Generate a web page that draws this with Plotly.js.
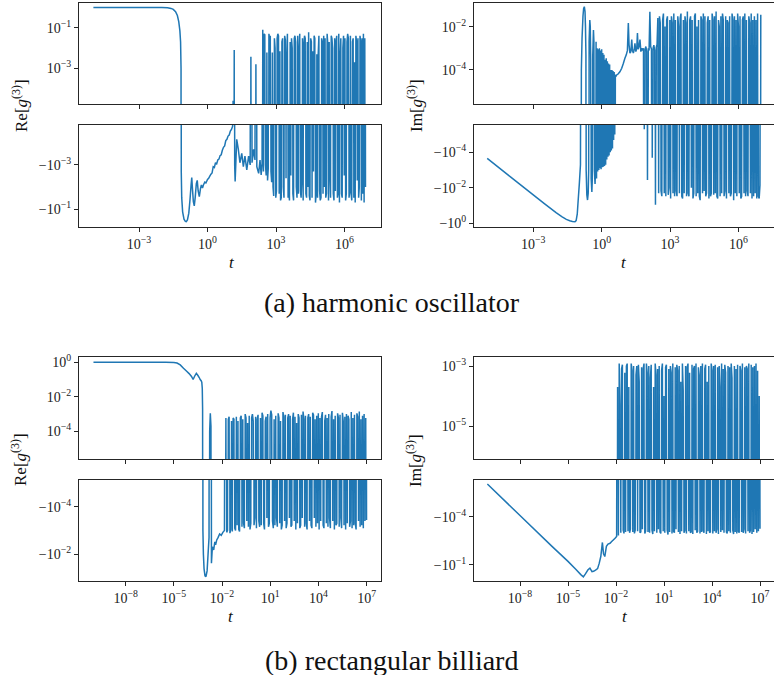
<!DOCTYPE html>
<html><head><meta charset="utf-8">
<script src="https://cdn.plot.ly/plotly-3.0.1.min.js"></script>
<style>html,body{margin:0;padding:0;background:#fff;}#chart{width:774px;height:675px;}</style>
</head><body><div id="chart"></div>
<script>
// ---------------- DATA ----------------
// (a) harmonic oscillator, Re[g3]: early part (log10 t, value) + dense part on a log grid [start, step]
const aReLogt = [-5,-3,-2,-1.75,-1.6,-1.5,-1.4,-1.32,-1.26,-1.21,-1.18,-1.16,-1.15,-1.13,-1.09,-1.03,-0.97,-0.93,-0.88,-0.82,-0.77,-0.72,-0.69,-0.66,-0.62,-0.58,-0.54,-0.49,-0.45,-0.41,-0.36,-0.31,-0.27,-0.22,-0.18,-0.12,-0.07,0,0.05,0.1,0.15,0.2,0.25,0.3,0.35,0.4,0.45,0.5,0.55,0.6,0.65,0.7,0.75,0.8,0.85,0.9,0.95,1.0,1.05,1.1,1.12,1.14,1.17,1.19,1.21,1.28,1.35,1.42,1.5,1.57,1.64,1.72,1.8,1.87,1.9,1.95,2.02,2.08,2.12,2.16,2.24,2.3,2.35,2.39];
const aReVal = [1,1,0.99,0.96,0.9,0.8,0.62,0.4,0.2,0.07,0.02,1e-3,-2e-3,-3e-2,-0.13,-0.28,-0.35,-0.36,-0.3,-0.15,-0.04,-8e-3,-3.7e-3,-1.2e-2,-4.5e-2,-7e-2,-3e-2,-7e-3,-5e-3,-1.5e-2,-2.7e-2,-1.2e-2,-8e-3,-1.1e-2,-8e-3,-6e-3,-6.5e-3,-4.5e-3,-4e-3,-3.2e-3,-2.6e-3,-2.3e-3,-1.2e-3,-1.3e-3,-8e-4,-9e-4,-6e-4,-5.5e-4,-3.8e-4,-3.5e-4,-2.2e-4,-1.6e-4,-1.4e-4,-8e-5,-7e-5,-5e-5,-4.5e-5,-3e-5,-2.5e-5,-1.8e-5,2.5e-5,-1e-5,8e-3,-1e-3,-5.6e-3,-7e-5,-2e-4,-8e-4,-3e-4,-1.2e-3,-4e-4,-1.7e-3,-4e-4,-1e-3,3.7e-3,-8e-4,-2e-4,-6e-4,1.6e-3,-1.2e-3,-2.4e-3,-6e-4,-2.8e-3,-9e-4];
const aReDenseGrid = [2.42, 0.03];
const aReDense = [8e-2,-2e-3,5e-2,4.5e-2,-1e-3,-3e-3,6e-3,-5e-3,-1.5e-3,5e-2,
3e-2,4e-2,-2e-3,-6e-3,6e-3,-1e-2,-2.5e-2,3e-2,1e-2,-3e-2,
-1.5e-2,3e-2,5e-2,4e-2,-2e-2,7e-3,-4e-2,-3e-2,2e-2,3e-2,
-1e-2,-3e-2,4e-2,2.5e-2,-4e-3,3e-3,5e-2,-3e-2,-1.5e-2,-4e-2,
2e-2,-3e-3,3e-2,1e-2,-2e-2,-4e-2,3e-2,4e-2,2e-2,-1e-2,
-3e-2,4e-2,-2e-2,8e-3,5e-2,-1.5e-2,-3e-2,-5e-3,3e-2,-4e-2,
1.5e-2,4e-2,3e-2,-2e-2,-3e-2,2e-2,-1e-2,6e-2,-2.5e-2,-4e-2,
3e-2,2e-2,-3e-2,7e-3,-2e-3,4e-2,3e-2,-5e-2,-2e-2,5e-3,
-3e-2,5e-3,4e-2,-1.5e-2,-4e-2,-3e-2,3e-2,2e-2,-2e-2,4e-2,
-1e-2,3e-2,-3e-2,-2e-2,5e-2,1.5e-2,-4e-2,2e-2,-3e-3,-3e-2,
4e-2,3e-2,1e-2,-2e-2,-4e-2,3e-2,-1.5e-2,2e-2,4e-2,-3e-2,
-2e-2,5e-2,-5e-2,4e-3,3e-2,-2e-2,-3e-2,1e-2,4e-2,-3e-3,
3e-2,-4e-2,-2e-2,2e-2,5e-2,3e-2,-3e-2,-1.5e-2,4e-2,-2e-2,
-4e-2,2e-2,3e-2,-3e-2,2e-3,-5e-2,4e-2,2e-2,-5e-3,3e-2,
-3e-2,-1e-2,4e-2,2e-2,-4e-2,3e-2,-2e-2,5e-2,-5e-2,3e-2,
-1e-2];

// (a) harmonic oscillator, Im[g3]
const aImLogt = [-5.02,-4,-3,-2.5,-2,-1.75,-1.55,-1.4,-1.28,-1.17,-1.12,-1.07,-1.03,-0.98,-0.93,-0.89,-0.86,-0.82,-0.79,-0.76,-0.73,-0.71,-0.69,-0.68,-0.65,-0.62,-0.59,-0.57,-0.55,-0.52,-0.5,-0.48,-0.46,-0.43,-0.41,-0.39,-0.36,-0.34,-0.32,-0.29,-0.27,-0.245,-0.225,
-0.2,-0.175,-0.15,-0.125,-0.1,-0.075,-0.05,-0.025,0,0.025,0.05,0.075,0.1,0.125,0.15,0.175,0.2,0.225,0.25,0.275,0.3,0.325,0.35,0.375,0.4,0.425,0.45,0.475,0.5,0.525,0.55,0.575,0.6,
0.62,0.66,0.72,0.8,0.88,0.95,1.02,1.08,1.13,1.17,1.2,1.24,1.28,1.32,1.35,1.39,1.43,1.46,1.5,1.54,1.57,1.6,1.64,1.68,1.72,1.76];
const aImVal = [-2.2e-4,-2.4e-3,-2.5e-2,-8e-2,-0.25,-0.42,-0.6,-0.72,-0.8,-0.82,-0.7,-0.3,-5e-2,-6e-3,-5e-4,1e-4,3e-3,3e-2,7e-2,8.3e-2,5e-2,1e-2,5e-4,-1e-3,-2.5e-2,-4.9e-2,-2e-2,-1e-3,2e-3,2e-2,1e-2,3e-4,-3e-3,-1.7e-2,-3e-3,5e-4,7e-3,2e-3,-1e-3,-6e-3,-1e-3,2e-3,-3e-3,
1e-3,-1.2e-3,9e-4,-1e-3,1e-3,-8e-4,8e-4,-9e-4,9e-4,-7e-4,6e-4,-6.5e-4,5e-4,-6e-4,3e-4,-5e-4,3.5e-4,-2.5e-4,2.5e-4,-1.8e-4,2e-4,-1.5e-4,1.8e-4,-1e-4,1e-4,-8e-5,1e-4,-6e-5,9e-5,-2e-5,8e-5,-1e-5,6e-5,
5e-5,5.9e-5,6.5e-5,8.3e-5,1.2e-4,2e-4,3.5e-4,5e-4,8e-4,1.45e-2,1.5e-3,6e-4,7e-4,2.5e-3,8e-4,6e-4,9e-4,1.7e-3,7e-4,1e-3,5e-3,9e-4,1.2e-3,2.5e-3,7e-4,1e-3];
const aImDenseGrid = [1.80, 0.035];
const aImDense = [8e-4,1e-3,-5e-6,9e-4,1.2e-3,7e-4,-3.6e-3,1e-3,8e-4,4.9e-2,
1.2e-3,9e-4,-2e-4,1e-3,1.4e-3,8e-4,-9e-2,1.1e-3,1.5e-3,2.5e-2,
-2e-2,3e-2,1.5e-2,-1.5e-2,-3e-2,2e-2,4e-2,-2e-2,1e-2,-3e-2,
2e-2,3e-2,-2.5e-2,-1e-2,2e-2,-4e-2,3e-2,1.5e-2,-2e-2,4e-2,
-3e-2,2e-2,-1.5e-2,-3e-2,3e-2,1e-2,-2e-2,2.5e-2,4e-2,-3e-2,
-4e-2,2e-2,-2e-2,3e-2,1.5e-2,-3e-2,5e-2,-2e-2,-3e-2,2e-2,
3e-2,-1e-2,2e-2,-4e-2,-2e-2,3e-2,4e-2,-3e-2,1e-2,-2e-2,
2e-2,-3e-2,-5e-2,3e-2,2e-2,-2e-2,4e-2,-1.5e-2,3e-2,-3e-2,
-2e-2,1.5e-2,3e-2,-4e-2,2e-2,-3e-2,-2e-2,4e-2,2e-2,-2.5e-2,
3e-2,-2e-2,5e-2,-3e-2,-4e-2,2e-2,1e-2,-3e-2,3e-2,-2e-2,
4e-2,2e-2,-3e-2,-1.5e-2,3e-2,-4e-2,2e-2,1.5e-2,-2e-2,3e-2,
-3e-2,-2e-2,4e-2,2e-2,-5e-2,3e-2,-2e-2,2e-2,-3e-2,4e-2,
1e-2,-2e-2,3e-2,-4e-2,-3e-2,2e-2,3e-2,-2e-2,4e-2,-3e-2,
2e-2,-1.5e-2,-3e-2,3e-2,1.5e-2,-2e-2,4e-2,-4e-2,2e-2,-3e-2,
3e-2,-2e-2,2e-2,-4e-2,4e-2,-3e-2,-4e-2,-7e-3,3.5e-2];

// (b) rectangular billiard, Re[g3]
const bReLogt = [-10,-7,-5.5,-5,-4.8,-4.6,-4.4,-4.2,-4.05,-3.9,-3.8,-3.7,-3.6,-3.5,-3.42,-3.36,-3.3,-3.26,-3.23,-3.21,-3.19,-3.16,-3.12,-3.06,-3.0,-2.93,-2.87,-2.81,-2.77,-2.73,-2.69,-2.66,-2.6,-2.52,-2.45,-2.4,-2.33,-2.25,-2.15,-2.05,-1.95,-1.85];
const bReVal = [1,1,0.99,0.97,0.9,0.7,0.45,0.3,0.22,0.15,0.1,0.16,0.23,0.17,0.13,0.1,0.085,0.07,0.03,2e-3,-1e-3,-1e-2,-4e-2,-8e-2,-8.7e-2,-5e-2,-1e-2,-2e-3,1e-4,1.1e-3,2e-4,-2.4e-2,-4.8e-3,-6.6e-3,-3e-3,-4e-3,-2.5e-3,-2e-3,-1.4e-3,-1.6e-3,-1.2e-3,-1e-3];
const bReDenseGrid = [-1.76, 0.05];
const bReDense = [6e-4,-1.2e-3,-1e-3,5e-4,7e-4,-1.3e-3,-9e-4,4e-4,-1.1e-3,6e-4,
5e-4,-8e-4,-1e-3,7e-4,-6e-4,4e-4,-9e-4,-1.1e-3,6e-4,8e-4,
-7e-4,5e-4,-5e-4,-8e-4,1e-3,6e-4,-4e-4,3e-4,-7e-4,8e-4,
-9e-4,-5e-4,6e-4,1e-3,4e-4,-6e-4,-3e-4,7e-4,-8e-4,5e-4,
9e-4,-4e-4,-7e-4,6e-4,-6e-4,1.2e-3,8e-4,-5e-4,-9e-4,4e-4,
7e-4,-3e-4,1e-3,-7e-4,-5e-4,6e-4,1.6e-3,9e-4,-4e-4,-8e-4,
5e-4,-6e-4,8e-4,-3e-4,-7e-4,1.1e-3,6e-4,-5e-4,4e-4,-9e-4,
-6e-4,1.3e-3,7e-4,-4e-4,9e-4,-8e-4,-5e-4,6e-4,1e-3,-3e-4,
8e-4,-7e-4,-6e-4,5e-4,1.2e-3,-4e-4,7e-4,-9e-4,3e-4,-5e-4,
1e-3,6e-4,-8e-4,-6e-4,9e-4,-3e-4,1.4e-3,5e-4,-7e-4,8e-4,
-5e-4,-9e-4,6e-4,1e-3,-4e-4,7e-4,-6e-4,-8e-4,1.2e-3,9e-4,
-3e-4,5e-4,-7e-4,8e-4,-5e-4,1.1e-3,-9e-4,6e-4,-4e-4,7e-4,
1.3e-3,-6e-4,-8e-4,4e-4,9e-4,-5e-4,6e-4,-7e-4,1e-3,-3e-4,
-8e-4,7e-4,1.5e-3,-4e-4,5e-4,-9e-4,8e-4,-6e-4,-5e-4,1.1e-3,
6e-4,-7e-4,9e-4,-3e-4,-8e-4,1.2e-3,4e-4,-6e-4,7e-4,-9e-4,
1e-3,-5e-4,8e-4,5e-4,-7e-4,-4e-4,1.3e-3,-8e-4,6e-4,-6e-4,
9e-4,-5e-4,-9e-4,1.1e-3,7e-4,-4e-4,1.4e-3,-7e-4,5e-4,-6e-4,
8e-4,-8e-4,1e-3,-4e-4,6e-4,-3.6e-4];

// (b) rectangular billiard, Im[g3]
const bImLogt = [-10.04,-8,-6,-5,-4.5,-4.2,-4.04,-3.9,-3.75,-3.63,-3.5,-3.4,-3.28,-3.15,-3.05,-2.95,-2.85,-2.78,-2.7,-2.6,-2.5,-2.375,-2.27,-2.17,-2.06,-1.96];
const bImVal = [-9.3e-7,-8.5e-5,-7e-3,-6e-2,-0.19,-0.4,-0.55,-0.35,-0.2,-0.16,-0.26,-0.25,-0.21,-0.17,-0.08,-0.03,-4e-3,-2e-2,-3e-2,-7e-3,-5e-3,-4.5e-3,-3.5e-3,-2.8e-3,-2.2e-3,-1.7e-3];
const bImDenseGrid = [-1.9, 0.05];
const bImDense = [2e-4,-1.5e-3,1.2e-3,5e-5,-1e-3,8e-4,1.1e-3,-7e-4,-1.1e-3,6e-4,
-9e-4,1e-3,1.2e-3,-8e-4,2e-4,-1e-3,-6e-4,1.2e-3,7e-4,-9e-4,
1e-3,-1.1e-3,-7e-4,5e-4,1e-3,-8e-4,1.1e-3,3e-4,-1e-3,-9e-4,
9e-4,-6e-4,8e-4,1.2e-3,-1.1e-3,-8e-4,1.2e-3,6e-4,-9e-4,1e-3,
-1e-3,4e-4,1.1e-3,-7e-4,-1.2e-3,2e-4,-8e-4,1.2e-3,5e-4,-1e-3,
8e-4,-6e-4,1e-3,-9e-4,-1.1e-3,7e-4,1.2e-3,-8e-4,1e-4,-1e-3,
9e-4,1.1e-3,-7e-4,-1.3e-3,8e-4,-9e-4,1e-3,6e-4,-1.1e-3,1.2e-3,
-8e-4,-1e-3,9e-4,-6e-4,1.1e-3,7e-4,-9e-4,1e-3,-1.2e-3,3e-4,
-8e-4,1.2e-3,1.5e-4,-1e-3,-7e-4,1e-3,-1.1e-3,9e-4,1.2e-3,-8e-4,
6e-4,-1e-3,-9e-4,1.1e-3,-1.2e-3,8e-4,1e-3,-7e-4,1.2e-3,-1e-3,
-8e-4,9e-4,5e-4,-1.1e-3,1e-3,-9e-4,1.2e-3,-7e-4,-1e-3,8e-4,
1.1e-3,-1.2e-3,3e-4,-8e-4,1e-3,-1e-3,-9e-4,1.2e-3,7e-4,-1.1e-3,
1e-3,-8e-4,1.1e-3,-1e-3,-6e-4,9e-4,-1.2e-3,1e-3,2e-4,-9e-4,
1.2e-3,-7e-4,8e-4,-1e-3,1.1e-3,6e-4,-9e-4,-1.1e-3,1e-3,-8e-4,
9e-4,-1e-3,1.2e-3,4e-4,-7e-4,-1.2e-3,1e-3,-9e-4,8e-4,-1.1e-3,
1.1e-3,-8e-4,-1e-3,1e-3,7e-4,-9e-4,1.2e-3,-1e-3,-6e-4,9e-4,
-1.1e-3,1e-3,8e-4,-8e-4,1.2e-3,-1e-3,-7e-4,1.1e-3,-1.2e-3,9e-4,
-9e-4,1e-3,-6e-4,1.2e-3,-1e-3,7e-4,-8e-4,1e-4,-5.7e-4];

// tick exponents
const aXTickExp = [-3,0,3,6];
const bXTickExp = [-8,-5,-2,1,4,7];
const aReTopTickExp = [-1,-3];
const aReBotTickExp = [-3,-1];
const aImTopTickExp = [-2,-4];
const aImBotTickExp = [-4,-2,0];
const bReTopTickExp = [0,-2,-4];
const bReBotTickExp = [-4,-2];
const bImTopTickExp = [-3,-5];
const bImBotTickExp = [-4,-1];

const captionA = '(a) harmonic oscillator';
const captionB = '(b) rectangular billiard';

// ---------------- BUILD ----------------
const W = 774, H = 675;
const FLOOR = 1e-30;
const BLUE = '#1f77b4';
const SERIF = '"Liberation Serif", "DejaVu Serif", serif';
const LINEC = '#262626';

function series(lt0, v0, grid, dense){
  const lt = lt0.slice(), v = v0.slice();
  dense.forEach((d,i)=>{ lt.push(grid[0] + i*grid[1]); v.push(d); });
  return { t: lt.map(l=>Math.pow(10,l)), v };
}
function ax(n){ return n===1 ? '' : String(n); }
function pair(s, nTop, nBot){
  const base = {type:'scatter', mode:'lines', line:{color:BLUE, width:1.5, simplify:false}, hoverinfo:'skip', showlegend:false};
  return [
    Object.assign({}, base, {x:s.t, y:s.v.map(z=> z>0 ? z : FLOOR), xaxis:'x'+ax(nTop), yaxis:'y'+ax(nTop)}),
    Object.assign({}, base, {x:s.t, y:s.v.map(z=> z<0 ? -z : FLOOR), xaxis:'x'+ax(nBot), yaxis:'y'+ax(nBot)})
  ];
}
function pw(e){ return '10<sup>' + (e<0 ? '\u2212'+(-e) : e) + '</sup>'; }

const traces = [].concat(
  pair(series(aReLogt, aReVal, aReDenseGrid, aReDense), 1, 2),
  pair(series(aImLogt, aImVal, aImDenseGrid, aImDense), 3, 4),
  pair(series(bReLogt, bReVal, bReDenseGrid, bReDense), 5, 6),
  pair(series(bImLogt, bImVal, bImDenseGrid, bImDense), 7, 8)
);

function common(){
  return {type:'log', autorange:false, showgrid:false, zeroline:false, showline:true, mirror:true,
    linecolor:LINEC, linewidth:1, ticks:'outside', ticklen:4, tickwidth:1, tickcolor:LINEC,
    tickmode:'array', tickfont:{family:SERIF, size:14, color:'#222'}, fixedrange:true};
}
function xAxis(px0, px1, range, exps, labels, anchor){
  return Object.assign(common(), {domain:[px0/W, px1/W], range, anchor,
    tickvals: exps.map(e=>Math.pow(10,e)), ticktext: exps.map(pw), showticklabels:labels});
}
function yAxis(top, bot, range, exps, neg, anchor){
  return Object.assign(common(), {domain:[1-bot/H, 1-top/H], range, anchor,
    tickvals: exps.map(e=>Math.pow(10,e)), ticktext: exps.map(e=>(neg?'\u2212':'')+pw(e))});
}

const L0=79, L1=381, R0=474, R1=774;
const layout = {
  width: W, height: H, margin:{l:0,r:0,t:0,b:0}, paper_bgcolor:'#fff', plot_bgcolor:'#fff', showlegend:false,
  font:{family:SERIF, color:'#111'},
  xaxis:  xAxis(L0,L1,[-5.63,7.6],aXTickExp,false,'y'),
  xaxis2: xAxis(L0,L1,[-5.63,7.6],aXTickExp,true,'y2'),
  xaxis3: xAxis(R0,R1,[-5.6,7.56],aXTickExp,false,'y3'),
  xaxis4: xAxis(R0,R1,[-5.6,7.56],aXTickExp,true,'y4'),
  xaxis5: xAxis(L0,L1,[-10.9,7.89],bXTickExp,false,'y5'),
  xaxis6: xAxis(L0,L1,[-10.9,7.89],bXTickExp,true,'y6'),
  xaxis7: xAxis(R0,R1,[-10.875,7.875],bXTickExp,false,'y7'),
  xaxis8: xAxis(R0,R1,[-10.875,7.875],bXTickExp,true,'y8'),
  yaxis:  yAxis(3,104,[-4.76,0.22],aReTopTickExp,false,'x'),
  yaxis2: yAxis(125,227,[-0.2,-4.8],aReBotTickExp,true,'x2'),
  yaxis3: yAxis(3,104,[-5.57,-0.91],aImTopTickExp,false,'x3'),
  yaxis4: yAxis(125,227,[0.21,-5.54],aImBotTickExp,true,'x4'),
  yaxis5: yAxis(356.7,459,[-5.6,0.32],bReTopTickExp,false,'x5'),
  yaxis6: yAxis(480,580.7,[-0.89,-5.12],bReBotTickExp,true,'x6'),
  yaxis7: yAxis(356.7,459,[-6.1,-2.69],bImTopTickExp,false,'x7'),
  yaxis8: yAxis(480,580.7,[-0.02,-6.28],bImBotTickExp,true,'x8'),
  annotations: []
};
function note(x, y, text, size, angle){
  layout.annotations.push({xref:'paper', yref:'paper', x:x/W, y:1-y/H, text, showarrow:false,
    xanchor:'center', yanchor:'middle', textangle:angle||0, font:{family:SERIF, size, color:'#111'}});
}
const reLab = 'Re[<i>g</i><sup>(3)</sup>]', imLab = 'Im[<i>g</i><sup>(3)</sup>]';
note(20,106,reLab,17,-90); note(415,106,imLab,17,-90);
note(19,460,reLab,17,-90); note(414,460,imLab,17,-90);
note(232,262,'<i>t</i>',17); note(624,262,'<i>t</i>',17);
note(231,616,'<i>t</i>',17); note(625,616,'<i>t</i>',17);
note(392,302,captionA,28); note(391,660,captionB,28);

Plotly.newPlot('chart', traces, layout, {displayModeBar:false, staticPlot:true});
</script></body></html>
